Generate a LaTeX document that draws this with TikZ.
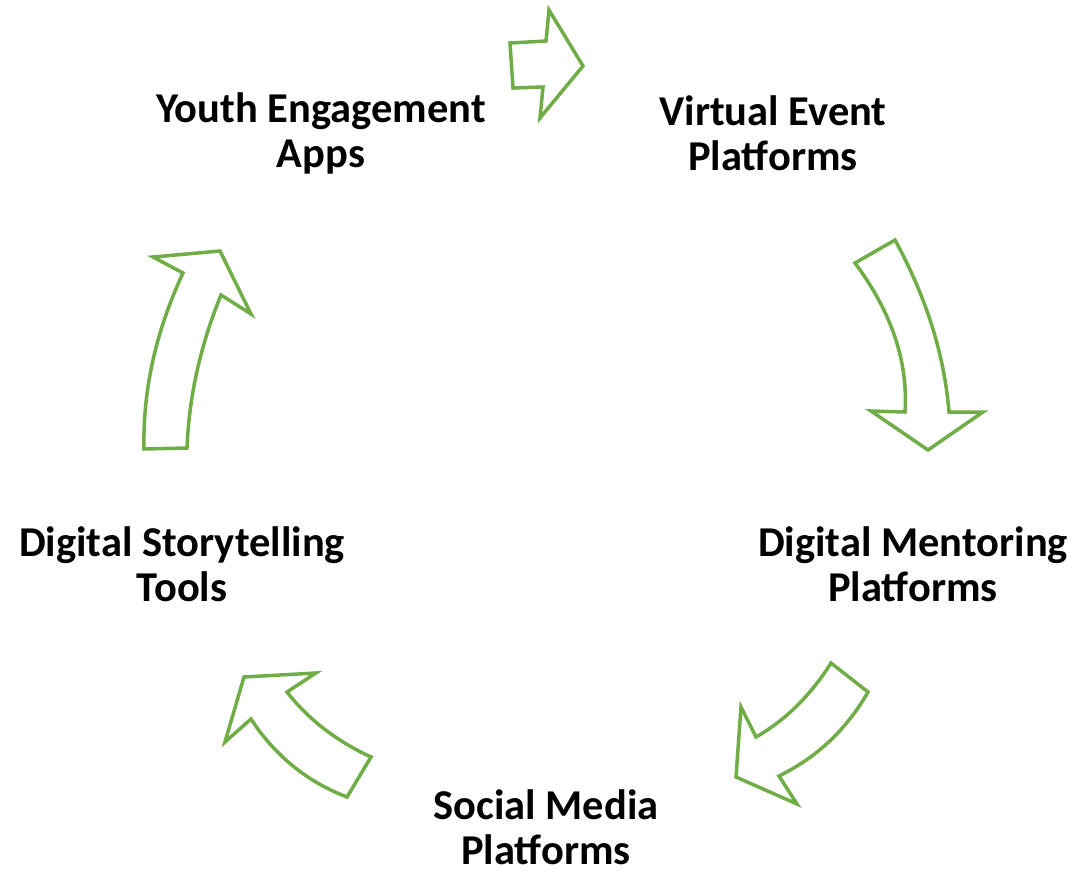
\documentclass[tikz,border=0pt]{standalone}
\usepackage{fontspec}
\setmainfont{Carlito}
\definecolor{leafgreen}{RGB}{112,173,71}
\tikzset{
  steplabel/.style={align=center, font=\bfseries\fontsize{42.5}{45}\selectfont, inner sep=0pt},
  blockarrow/.style={draw=leafgreen, line width=3.5pt, fill=white, line join=miter}
}
\begin{document}
\begin{tikzpicture}[x=1pt, y=-1pt]
  \useasboundingbox (0, 0) rectangle (1076, 873);
  % labels
  \node[steplabel] (youth) at (321, 133) {Youth Engagement\\Apps};
  \node[steplabel] (virtual) at (773, 133) {Virtual Event\\Platforms};
  \node[steplabel] (mentoring) at (913, 564) {Digital Mentoring\\Platforms};
  \node[steplabel] (social) at (546, 827) {Social Media\\Platforms};
  \node[steplabel] (story) at (182, 564) {Digital Storytelling\\Tools};

  % arrows
  \draw[blockarrow] (510, 43) -- (546, 41) -- (549, 10) -- (583, 66) -- (540, 118)
    -- (543, 87) -- (513, 88) -- cycle;
  \draw[blockarrow] (855, 263) -- (895, 240)
    .. controls (926.3, 297.3) and (944.3, 354.7) .. (949, 412)
    -- (983, 412) -- (928, 450) -- (871, 411) -- (905, 412)
    .. controls (908.3, 362) and (891.7, 312.3) .. cycle;
  \draw[blockarrow] (831, 663) -- (868, 692)
    .. controls (846.7, 729.3) and (817, 757.3) .. (779, 776)
    -- (797, 804) -- (736, 777) -- (741, 707) -- (756, 737)
    .. controls (785.3, 720.3) and (810.3, 695.7) .. cycle;
  \draw[blockarrow] (347, 797) -- (371, 757)
    .. controls (336.3, 741) and (308.3, 719.3) .. (287, 692)
    -- (316, 673) -- (244, 677) -- (225, 742) -- (251, 719)
    .. controls (275, 755.7) and (307, 781.7) .. cycle;
  \draw[blockarrow] (144, 449) -- (187, 448)
    .. controls (189, 396.7) and (200.3, 345.7) .. (221, 295)
    -- (251, 314) -- (220, 251) -- (153, 257) -- (183, 273)
    .. controls (155.7, 331.7) and (142.7, 390.3) .. cycle;
\end{tikzpicture}
\end{document}
